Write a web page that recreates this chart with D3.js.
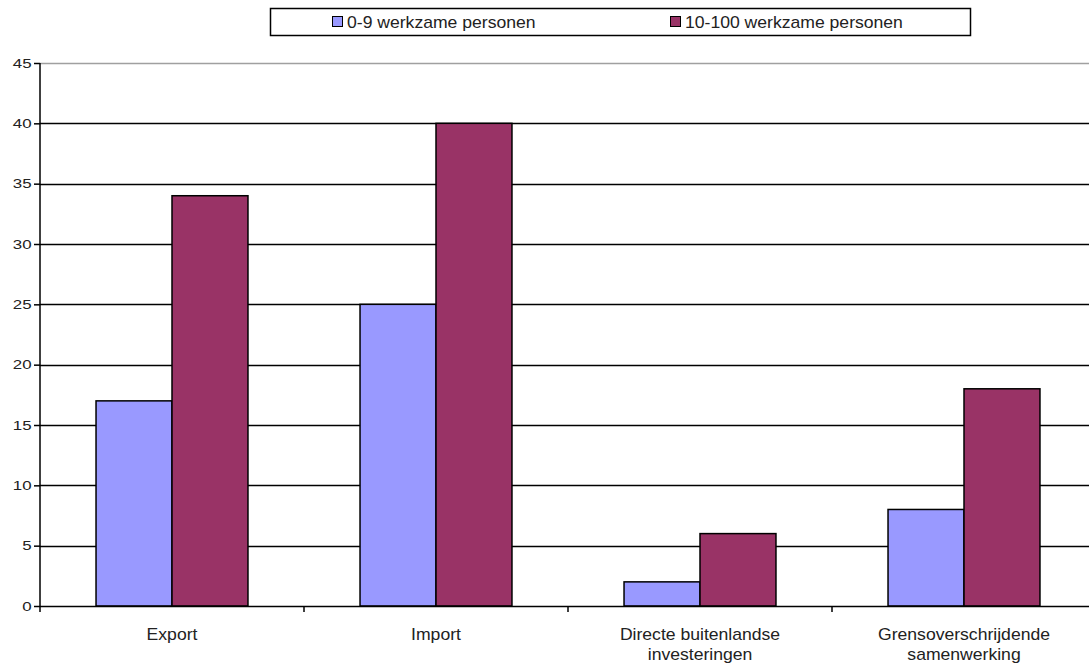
<!DOCTYPE html>
<html>
<head>
<meta charset="utf-8">
<script src="https://cdn.jsdelivr.net/npm/d3@7"></script>
<style>
  html, body { margin: 0; padding: 0; background: #fff; }
  svg { display: block; font-family: "Liberation Sans", Arial, sans-serif; }
</style>
</head>
<body>
<svg id="chart" width="1089" height="664"></svg>
<script>
// Categories (two-line labels) and series
const categories = ["Export", "Import", "Directe buitenlandse\ninvesteringen", "Grensoverschrijdende\nsamenwerking"];
const seriesNames = ["0-9 werkzame personen", "10-100 werkzame personen"];
const small = [17, 25, 2, 8];
const large = [34, 40, 6, 18];
const seriesColors = ["#9999FF", "#993366"];
const yTicks = [0, 5, 10, 15, 20, 25, 30, 35, 40, 45];

(function () {
const svg = d3.select("#chart");
const plotLeft = 40, plotTop = 63, plotBottom = 606;
const catWidth = 264;
const plotRight = plotLeft + catWidth * categories.length;
const textColor = "#222";

const x = d3.scaleBand().domain(d3.range(categories.length)).range([plotLeft, plotRight]).paddingInner(0).paddingOuter(0);
const xs = d3.scaleBand().domain([0, 1]).range([0, x.bandwidth()]).paddingInner(0).paddingOuter(0.7375);
const y = d3.scaleLinear().domain([0, 45]).range([plotBottom, plotTop]);

// Gridlines (top one is the lighter plot-area edge)
svg.append("g")
  .selectAll("line")
  .data(yTicks.filter(d => d > 0))
  .join("line")
  .attr("x1", plotLeft).attr("x2", plotRight)
  .attr("y1", d => Math.round(y(d)) + 0.5).attr("y2", d => Math.round(y(d)) + 0.5)
  .attr("stroke", d => d === 45 ? "#a0a0a0" : "#000")
  .attr("stroke-width", 1.5);

// Bars
const data = categories.map((c, i) => [small[i], large[i]]);
const groups = svg.append("g").selectAll("g")
  .data(data)
  .join("g")
  .attr("transform", (d, i) => `translate(${x(i)},0)`);
groups.selectAll("rect")
  .data(d => d)
  .join("rect")
  .attr("x", (d, j) => xs(j))
  .attr("width", xs.bandwidth())
  .attr("y", d => y(d))
  .attr("height", d => y(0) - y(d))
  .attr("fill", (d, j) => seriesColors[j])
  .attr("stroke", "#000")
  .attr("stroke-width", 1.5);

// Y axis
const yAxis = d3.axisLeft(y).tickValues(yTicks).tickSize(6).tickPadding(5);
const gy = svg.append("g").attr("transform", `translate(${plotLeft},0)`).call(yAxis);
gy.select(".domain").attr("stroke", "#000").attr("stroke-width", 1.5).attr("d", `M0,${plotTop}V${plotBottom + 6}`);
gy.selectAll(".tick line").attr("stroke", "#000").attr("stroke-width", 1.5);
gy.selectAll(".tick text")
  .attr("font-size", 13)
  .attr("fill", textColor)
  .attr("font-family", "Liberation Sans, Arial, sans-serif")
  .attr("x", -6.5)
  .attr("transform", "scale(1.3,1)");

// X axis baseline with ticks at category boundaries
const gx = svg.append("g");
gx.append("line").attr("x1", plotLeft).attr("x2", plotRight).attr("y1", plotBottom + 0.5).attr("y2", plotBottom + 0.5)
  .attr("stroke", "#000").attr("stroke-width", 1.5);
gx.selectAll("line.tk")
  .data(d3.range(1, categories.length + 1))
  .join("line").attr("class", "tk")
  .attr("x1", i => x(0) + i * x.step()).attr("x2", i => x(0) + i * x.step())
  .attr("y1", plotBottom).attr("y2", plotBottom + 6)
  .attr("stroke", "#000").attr("stroke-width", 1.5);

// Category labels
const lbl = gx.selectAll("text.cat")
  .data(categories)
  .join("text").attr("class", "cat")
  .attr("text-anchor", "middle")
  .attr("font-size", 16)
  .attr("fill", textColor)
  .attr("transform", (d, i) => `translate(${x(i) + x.bandwidth() / 2},${plotBottom + 34}) scale(1.1,1)`);
lbl.selectAll("tspan")
  .data(d => d.split("\n"))
  .join("tspan")
  .attr("x", 0)
  .attr("dy", (d, k) => k === 0 ? 0 : 20)
  .text(d => d);

// Legend
const legend = svg.append("g");
legend.append("rect").attr("x", 270.5).attr("y", 8.5).attr("width", 700).attr("height", 27)
  .attr("fill", "#fff").attr("stroke", "#000").attr("stroke-width", 1.5);
const legendX = [332, 670];
seriesNames.forEach((name, j) => {
  legend.append("rect").attr("x", legendX[j] + 0.5).attr("y", 16.5).attr("width", 10).attr("height", 10)
    .attr("fill", seriesColors[j]).attr("stroke", "#000").attr("stroke-width", 1);
  legend.append("text")
    .attr("transform", `translate(${legendX[j] + 15},28) scale(1.1,1)`)
    .attr("font-size", 16)
    .attr("fill", textColor).text(name);
});
})();
</script>
</body>
</html>
